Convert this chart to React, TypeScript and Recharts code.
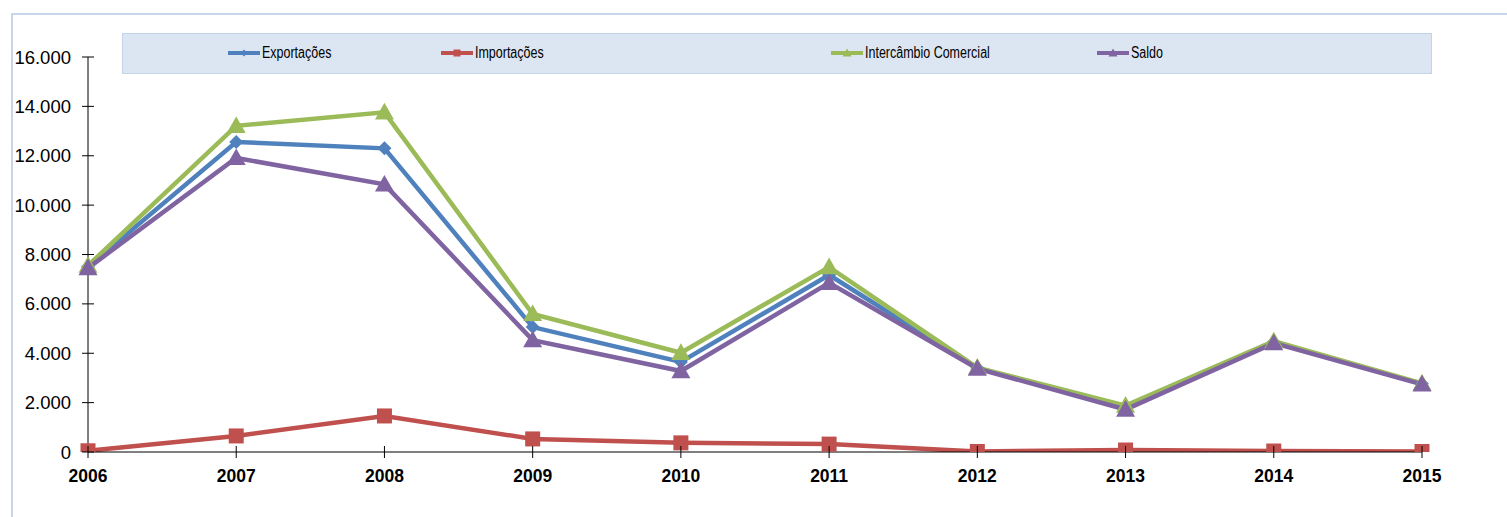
import { LineChart, Line, XAxis, YAxis } from 'recharts';

const years = ['2006', '2007', '2008', '2009', '2010', '2011', '2012', '2013', '2014', '2015'];
const exportacoes = [7500, 12560, 12300, 5060, 3650, 7170, 3400, 1800, 4450, 2760];
const importacoes = [50, 650, 1460, 530, 370, 320, 20, 80, 40, 20];
const intercambio = [7550, 13210, 13760, 5590, 4020, 7490, 3420, 1880, 4490, 2780];
const saldo = [7450, 11910, 10840, 4530, 3280, 6850, 3380, 1720, 4410, 2740];
const yTicks = [0, 2000, 4000, 6000, 8000, 10000, 12000, 14000, 16000];

type Shape = 'diamond' | 'square' | 'triangle';

const SERIES: { key: string; name: string; color: string; shape: Shape; legendX: number }[] = [
  { key: 'exp', name: 'Exportações', color: '#4F81BD', shape: 'diamond', legendX: 227 },
  { key: 'imp', name: 'Importações', color: '#C0504D', shape: 'square', legendX: 440 },
  { key: 'int', name: 'Intercâmbio Comercial', color: '#9BBB59', shape: 'triangle', legendX: 830 },
  { key: 'sal', name: 'Saldo', color: '#8064A2', shape: 'triangle', legendX: 1096 },
];

const data = years.map((year, i) => ({
  year,
  exp: exportacoes[i],
  imp: importacoes[i],
  int: intercambio[i],
  sal: saldo[i],
}));

const FONT = '"Liberation Sans", Arial, sans-serif';

function marker(shape: Shape, cx: number, cy: number, size: number, color: string, key?: string | number) {
  const h = size / 2;
  if (shape === 'diamond') {
    return <polygon key={key} points={`${cx},${cy - h} ${cx + h},${cy} ${cx},${cy + h} ${cx - h},${cy}`} fill={color} />;
  }
  if (shape === 'square') {
    return <rect key={key} x={cx - h} y={cy - h} width={size} height={size} fill={color} />;
  }
  return <polygon key={key} points={`${cx},${cy - h} ${cx + h},${cy + h * 0.75} ${cx - h},${cy + h * 0.75}`} fill={color} />;
}

function makeDot(shape: Shape, color: string) {
  const size = shape === 'diamond' ? 14 : shape === 'square' ? 15 : 19;
  return (props: any) => {
    const { cx, cy, index } = props;
    if (cx == null || cy == null) return <g key={index} />;
    return marker(shape, cx, cy, size, color, index);
  };
}

const YTick = (props: any) => {
  const { x, y, payload } = props;
  return (
    <g>
      <line x1={82} x2={94} y1={y} y2={y} stroke="#000" strokeWidth={1} />
      <text x={x} y={y} dy={6.5} textAnchor="end" fontSize={18.5} fontFamily={FONT} fill="#000">
        {payload.value.toLocaleString('de-DE')}
      </text>
    </g>
  );
};

const XTick = (props: any) => {
  const { x, payload } = props;
  return (
    <g>
      <line x1={x} x2={x} y1={446} y2={458} stroke="#000" strokeWidth={1} />
      <text x={x} y={482} textAnchor="middle" fontSize={17.5} fontWeight="bold" fontFamily={FONT} fill="#000">
        {payload.value}
      </text>
    </g>
  );
};

export default function App() {
  return (
    <div style={{ position: 'absolute', left: 0, top: 0, width: 1507, height: 517, background: '#fff', overflow: 'hidden' }}>
      <div style={{ position: 'absolute', left: 11, top: 13, width: 1510, height: 520, border: '2px solid #C6D5EA', boxSizing: 'border-box' }} />
      <div
        style={{
          position: 'absolute', left: 122, top: 33, width: 1310, height: 41,
          background: '#DCE6F2', border: '1px solid #C3D3EA', boxSizing: 'border-box',
        }}
      />
      {SERIES.map(s => (
        <div key={s.key} style={{ position: 'absolute', left: s.legendX, top: 43, height: 20, display: 'flex', alignItems: 'center' }}>
          <svg width={34} height={20}>
            <line x1={1} x2={33} y1={10} y2={10} stroke={s.color} strokeWidth={4} />
            {marker(s.shape, 17, 10, s.shape === 'triangle' ? 9 : 7, s.color)}
          </svg>
          <span
            style={{
              fontFamily: FONT, fontSize: 16, color: '#000', marginLeft: 1, whiteSpace: 'nowrap',
              display: 'inline-block', transform: 'scaleX(0.78)', transformOrigin: 'left center',
            }}
          >
            {s.name}
          </span>
        </div>
      ))}
      <div style={{ position: 'absolute', left: 0, top: 0 }}>
        <LineChart width={1507} height={517} data={data} margin={{ top: 57, right: 85, bottom: 35, left: 0 }}>
          <XAxis
            dataKey="year"
            padding={{ left: 0, right: 0 }}
            axisLine={{ stroke: '#000', strokeWidth: 1 }}
            tickLine={false}
            tick={<XTick />}
            tickSize={0}
            height={30}
            interval={0}
          />
          <YAxis
            width={88}
            domain={[0, 16000]}
            ticks={yTicks}
            allowDataOverflow
            axisLine={{ stroke: '#000', strokeWidth: 1 }}
            tickLine={false}
            tick={<YTick />}
            tickSize={0}
            tickMargin={17}
          />
          {SERIES.map(s => (
            <Line
              key={s.key}
              dataKey={s.key}
              name={s.name}
              type="linear"
              stroke={s.color}
              strokeWidth={4.5}
              dot={makeDot(s.shape, s.color)}
              activeDot={false}
              isAnimationActive={false}
            />
          ))}
        </LineChart>
      </div>
    </div>
  );
}
